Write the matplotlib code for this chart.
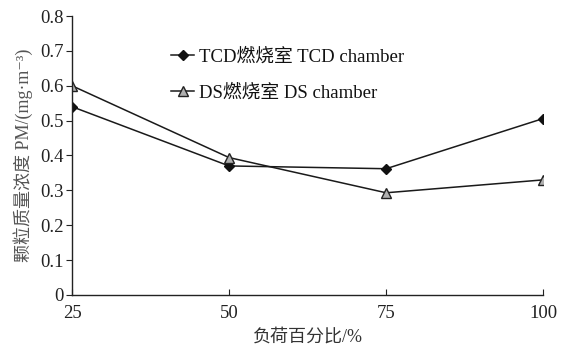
import matplotlib
matplotlib.use("Agg")
import matplotlib.pyplot as plt

# Load percentage vs particulate concentration
load_pct = [25, 50, 75, 100]
tcd_pm = [0.54, 0.37, 0.362, 0.506]
ds_pm = [0.60, 0.394, 0.293, 0.330]
tcd_label = "TCD燃烧室 TCD chamber"
ds_label = "DS燃烧室 DS chamber"
y_ticks = [0, 0.1, 0.2, 0.3, 0.4, 0.5, 0.6, 0.7, 0.8]
y_tick_labels = ["0", "0.1", "0.2", "0.3", "0.4", "0.5", "0.6", "0.7", "0.8"]

plt.rcParams["font.family"] = ["Liberation Serif", "Noto Sans CJK SC", "DejaVu Serif"]

fig = plt.figure(figsize=(5.76, 3.49), dpi=100)
ax = fig.add_axes([0.125, 0.155, 0.818, 0.799])

ax.plot(load_pct, tcd_pm, color="#1a1a1a", lw=1.1, marker="D", ms=5.5,
        mfc="#111111", mec="#111111", label=tcd_label)
ax.plot(load_pct, ds_pm, color="#1a1a1a", lw=1.1, marker="^", ms=7,
        mfc="#b0b0b0", mec="#222222", mew=1.0, label=ds_label)

ax.set_xlim(25, 100)
ax.set_ylim(0, 0.8)
ax.set_xticks(load_pct)
ax.set_yticks(y_ticks)
ax.set_yticklabels(y_tick_labels)

for s in ["top", "right"]:
    ax.spines[s].set_visible(False)
for s in ["left", "bottom"]:
    ax.spines[s].set_linewidth(1.0)
    ax.spines[s].set_color("#222222")

ax.tick_params(axis="x", direction="in", length=4, labelsize=13.5, pad=7, colors="#222222")
ax.tick_params(axis="y", direction="out", length=4, labelsize=13.5, pad=2, colors="#222222")

ax.set_xlabel("负荷百分比/%", fontsize=13, color="#333333", labelpad=5)
ax.set_ylabel("颗粒质量浓度 PM/(mg·m⁻³)", fontsize=13, color="#555555", labelpad=5)

leg = ax.legend(loc="upper left", bbox_to_anchor=(0.175, 0.945), frameon=False,
                fontsize=13.5, handlelength=1.2, handletextpad=0.3, labelspacing=1.0)
for t in leg.get_texts():
    t.set_color("#111111")

fig.savefig("out.png", dpi=100)
